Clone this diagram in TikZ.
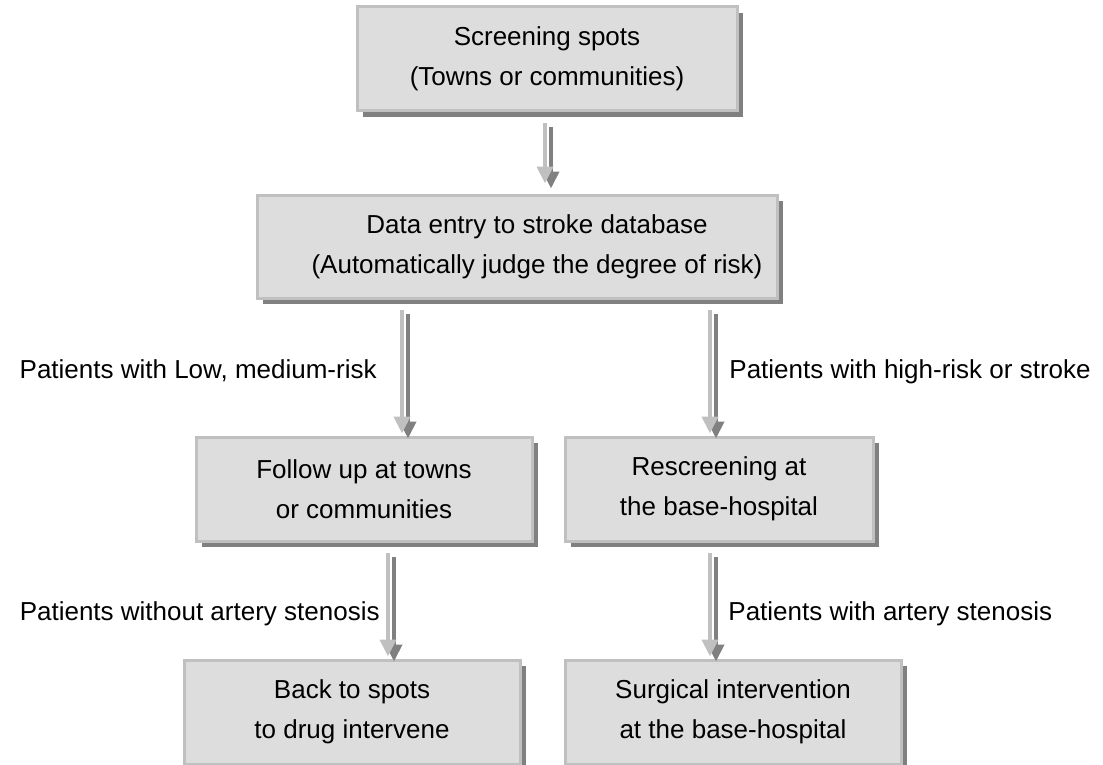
\documentclass[tikz,border=0pt]{standalone}
\usepackage{fontspec}
\setmainfont{Liberation Sans}
\usetikzlibrary{shadows,arrows.meta,calc}
\definecolor{boxfill}{HTML}{DDDDDD}
\definecolor{boxline}{HTML}{C0C0C0}
\definecolor{shadowgray}{HTML}{808080}
\begin{document}
\begin{tikzpicture}[x=0.5pt,y=-0.5pt,
  txt/.style={font=\fontsize{13pt}{20pt}\selectfont},
  box/.style={txt, draw=boxline, line width=1.5pt, fill=boxfill, align=center, inner sep=0pt,
    drop shadow={shadow xshift=3pt, shadow yshift=-3pt, fill=shadowgray, opacity=1}},
  lbl/.style={txt, inner sep=0pt},
  arrlight/.style={draw=boxline, line width=2pt, -{Triangle[width=8pt,length=8.5pt]}},
  arrdark/.style={draw=shadowgray, line width=2pt, -{Triangle[width=8pt,length=8.5pt]}}
]
\useasboundingbox (0,0) rectangle (1103,765);

\node[box, minimum width=190pt, minimum height=52pt] (b1) at (547,59) {Screening spots\\(Towns or communities)};
\node[box, minimum width=260pt, minimum height=51.5pt] (b2) at (517,246.5) {\hspace*{20pt}Data entry to stroke database\\\hspace*{20pt}(Automatically judge the degree of risk)};
\node[box, minimum width=168pt, minimum height=52pt] (b3) at (364,489) {Follow up at towns\\or communities};
\node[box, minimum width=154pt, minimum height=52pt] (b4) at (719,489) {Rescreening at\\the base-hospital};
\node[box, minimum width=168pt, minimum height=52pt] (b5) at (352,712) {Back to spots\\to drug intervene};
\node[box, minimum width=168pt, minimum height=52pt] (b6) at (733,712) {Surgical intervention\\at the base-hospital};

\node[lbl, anchor=base east] (l1) at (377,378) {Patients with Low, medium-risk};
\node[lbl, anchor=base west] (l2) at (729,378) {Patients with high-risk or stroke};
\node[lbl, anchor=base east] (l3) at (380,620) {Patients without artery stenosis};
\node[lbl, anchor=base west] (l4) at (728,620) {Patients with artery stenosis};

\coordinate (xa) at (545,0);
\coordinate (xb) at (402,0);
\coordinate (xc) at (710,0);
\coordinate (xd) at (388,0);
\coordinate (xe) at (710,0);

% arrow 1
\draw[arrdark] ($(b1.south -| xa)+(6,15)$) -- ($(b2.north -| xa)+(6,-5)$);
\draw[arrlight] ($(b1.south -| xa)+(0,11)$) -- ($(b2.north -| xa)+(0,-10)$);
% arrow 2
\draw[arrdark] ($(b2.south -| xb)+(6,14)$) -- ($(b3.north -| xb)+(6,3)$);
\draw[arrlight] ($(b2.south -| xb)+(0,10)$) -- ($(b3.north -| xb)+(0,-2)$);
% arrow 3
\draw[arrdark] ($(b2.south -| xc)+(6,14)$) -- ($(b4.north -| xc)+(6,3)$);
\draw[arrlight] ($(b2.south -| xc)+(0,10)$) -- ($(b4.north -| xc)+(0,-2)$);
% arrow 4
\draw[arrdark] ($(b3.south -| xd)+(6,14)$) -- ($(b5.north -| xd)+(6,3)$);
\draw[arrlight] ($(b3.south -| xd)+(0,10)$) -- ($(b5.north -| xd)+(0,-2)$);
% arrow 5
\draw[arrdark] ($(b4.south -| xe)+(6,14)$) -- ($(b6.north -| xe)+(6,3)$);
\draw[arrlight] ($(b4.south -| xe)+(0,10)$) -- ($(b6.north -| xe)+(0,-2)$);
\end{tikzpicture}
\end{document}
